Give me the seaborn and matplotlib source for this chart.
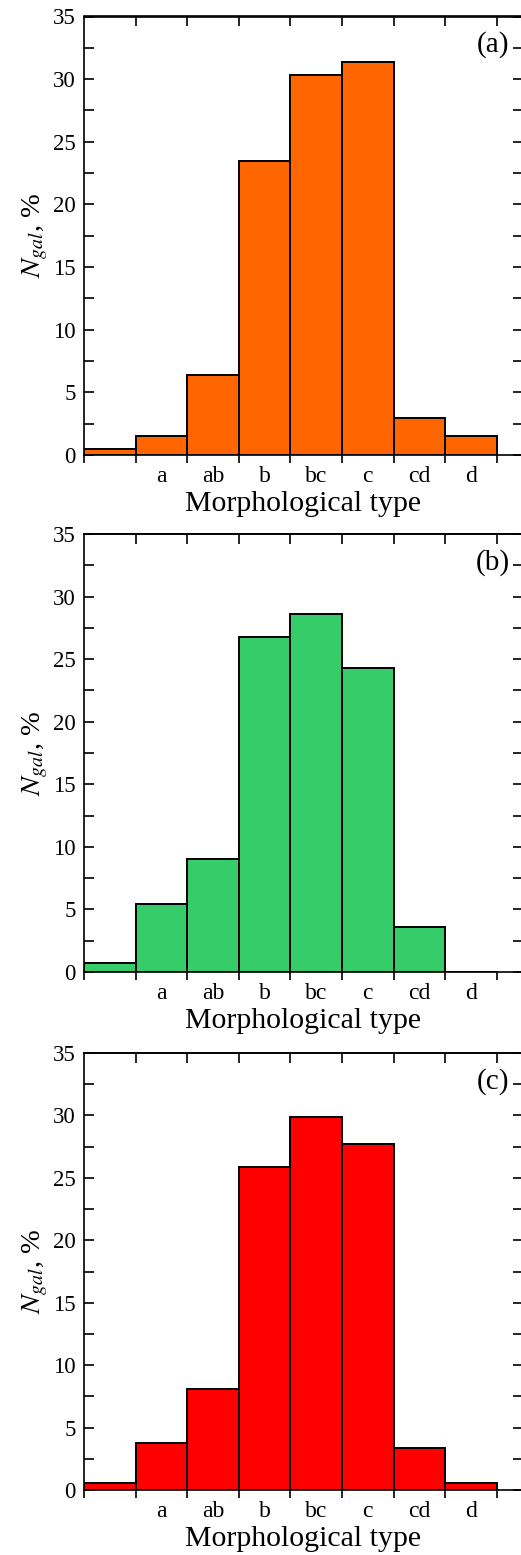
import numpy as np
import matplotlib
matplotlib.use("Agg")
import matplotlib.pyplot as plt
import seaborn as sns
from matplotlib.ticker import MultipleLocator, FixedLocator, NullFormatter, FixedFormatter

# bin centres: first bin is unlabeled, then a..d
centers = [0.5, 1.5, 2.5, 3.5, 4.5, 5.5, 6.5, 7.5]
type_labels = ["a", "ab", "b", "bc", "c", "cd", "d"]

sample_a = [0.5, 1.5, 6.4, 23.5, 30.35, 31.35, 2.95, 1.5]
sample_b = [0.7, 5.4, 9.05, 26.8, 28.6, 24.3, 3.6, 0.0]
sample_c = [0.6, 3.75, 8.05, 25.85, 29.9, 27.75, 3.35, 0.6]

panels = [("(a)", sample_a, "#FF6600"),
          ("(b)", sample_b, "#36CC69"),
          ("(c)", sample_c, "#FF0000")]

sns.set_style("ticks", {"axes.edgecolor": "black", "xtick.color": "black",
                        "ytick.color": "black", "text.color": "black",
                        "axes.labelcolor": "black"})
plt.rcParams["font.family"] = ["Liberation Serif", "DejaVu Serif"]
plt.rcParams["mathtext.fontset"] = "stix"
plt.rcParams["axes.linewidth"] = 1.2

fig = plt.figure(figsize=(5.21, 15.55), dpi=100)

# axes boxes in pixels (left, top, bottom)
px_w = 438.6
boxes = [(84, 16.5, 455), (84, 534, 972), (84, 1053, 1490)]

for (tag, vals, col), (x0, top, bot) in zip(panels, boxes):
    ax = fig.add_axes([x0 / 521, (1555 - bot) / 1555, px_w / 521, (bot - top) / 1555])
    sns.barplot(x=centers, y=vals, native_scale=True, width=1.0, color=col,
                saturation=1, edgecolor="black", linewidth=1.4, ax=ax)
    ax.set_xlim(0, 8.5)
    ax.set_ylim(0, 35)

    # y axis: ticks inward on both sides
    ax.yaxis.set_major_locator(MultipleLocator(5))
    ax.yaxis.set_minor_locator(MultipleLocator(2.5))
    ax.tick_params(axis="y", which="both", direction="in", left=True, right=True,
                   length=7, width=1.2, labelsize=16.5, pad=6)

    # x axis: outward ticks at bin edges, labels at bin centres
    ax.xaxis.set_major_locator(FixedLocator(np.arange(0, 9)))
    ax.xaxis.set_major_formatter(NullFormatter())
    ax.xaxis.set_minor_locator(FixedLocator(centers[1:]))
    ax.xaxis.set_minor_formatter(FixedFormatter(type_labels))
    ax.tick_params(axis="x", which="major", direction="out", length=6, width=1.2,
                   top=False)
    ax.tick_params(axis="x", which="minor", length=0, labelsize=17, pad=8)

    top_ax = ax.secondary_xaxis("top")
    top_ax.set_xticks(np.arange(1, 9))
    top_ax.tick_params(direction="in", length=7, width=1.2, labeltop=False)

    ax.set_xlabel("Morphological type", fontsize=21.5, labelpad=3)
    ax.set_ylabel(r"$N_{gal}$, %", fontsize=20.5, labelpad=2)
    ax.text(0.97, 0.935, tag, transform=ax.transAxes, ha="right", va="center",
            fontsize=21)

fig.savefig("out.png", dpi=100)
